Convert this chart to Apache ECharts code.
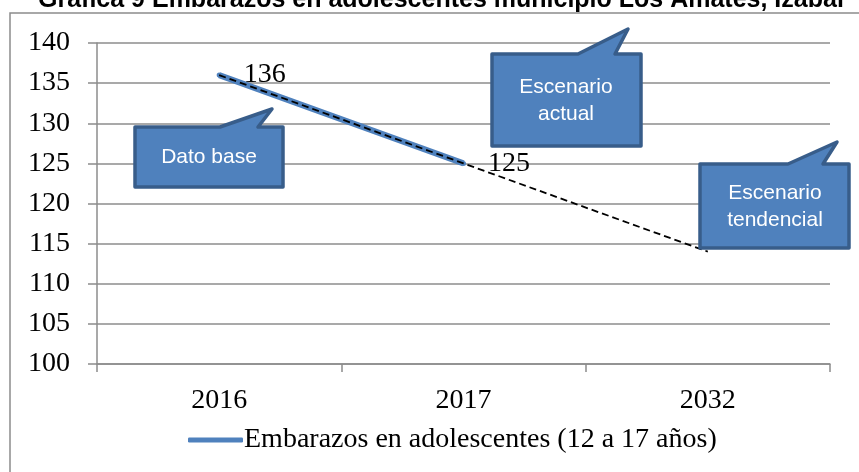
<!DOCTYPE html>
<html>
<head>
<meta charset="utf-8">
<script src="https://cdn.jsdelivr.net/npm/echarts@6/dist/echarts.min.js"></script>
<style>
  html, body { margin: 0; padding: 0; background: #fff; }
  #chart { width: 859px; height: 472px; }
</style>
</head>
<body>
<div id="chart"></div>
<script>
// datos de la gráfica
const years = ['2016', '2017', '2032']
const embarazos = [136, 125, null]
const tendencia = [136, 125, 114]
const yTicks = [100, 105, 110, 115, 120, 125, 130, 135, 140]
const serieNombre = 'Embarazos en adolescentes (12 a 17 años)'

const serif = 'Liberation Serif'
const sans = '"Liberation Sans", Arial'
const azul = '#4f81bd'
const borde = '#385d8a'
const gris = '#8c8c8c'

// globo de texto con cola (coordenadas de pantalla, no son datos)
function globo (x1, y1, x2, y2, cola, lineas, cx, cy) {
  return [{
    type: 'polygon',
    z: 100,
    shape: {
      points: [[x1, y1], [cola[0], y1], cola[1], [cola[2], y1], [x2, y1], [x2, y2], [x1, y2]]
    },
    style: { fill: azul, stroke: borde, lineWidth: 3.5, lineJoin: 'round' }
  }, {
    type: 'text',
    z: 101,
    style: {
      x: cx,
      y: cy,
      text: lineas.join('\n'),
      fill: '#fff',
      font: '21px ' + sans,
      lineHeight: 27,
      textAlign: 'center',
      textVerticalAlign: 'middle'
    }
  }]
}

const chart = echarts.init(document.getElementById('chart'))
const option = {
  backgroundColor: '#fff',
  animation: false,
  title: {
    text: 'Gráfica 9 Embarazos en adolescentes municipio Los Amates, Izabal',
    left: 33,
    top: -17,
    textStyle: { fontFamily: sans, fontWeight: 'bold', fontSize: 25, color: '#000' }
  },
  legend: {
    data: [serieNombre],
    left: 183,
    top: 421,
    icon: 'roundRect',
    itemWidth: 55,
    itemHeight: 5,
    itemGap: 2,
    textStyle: { fontFamily: serif, fontSize: 28, color: '#000', padding: [0, 0, 0, -4] }
  },
  grid: { left: 97, right: 29, top: 43, bottom: 108 },
  xAxis: {
    type: 'category',
    data: years,
    boundaryGap: true,
    axisLine: { lineStyle: { color: gris, width: 1.5 } },
    axisTick: { show: true, length: 8, lineStyle: { color: gris, width: 1.5 } },
    axisLabel: { fontFamily: serif, fontSize: 28, color: '#000', margin: 23 }
  },
  yAxis: {
    type: 'value',
    min: yTicks[0],
    max: yTicks[yTicks.length - 1],
    interval: 5,
    axisLine: { show: true, lineStyle: { color: gris, width: 1.5 } },
    axisTick: { show: true, length: 9, lineStyle: { color: gris, width: 1.5 } },
    axisLabel: { fontFamily: serif, fontSize: 28, color: '#000', margin: 27 },
    splitLine: { lineStyle: { color: gris, width: 1.5 } }
  },
  series: [{
    name: serieNombre,
    type: 'line',
    data: embarazos,
    symbol: 'circle',
    symbolSize: 5,
    lineStyle: { color: azul, width: 6 },
    itemStyle: { color: azul },
    label: {
      show: true,
      position: 'right',
      distance: 22,
      fontFamily: serif,
      fontSize: 28,
      color: '#000'
    },
    z: 3
  }, {
    name: 'tendencia',
    type: 'line',
    data: tendencia,
    symbol: 'none',
    lineStyle: { color: '#000', width: 1.8, type: [7, 4] },
    z: 4,
    silent: true
  }],
  graphic: [
    {
      type: 'rect',
      z: 0,
      shape: { x: 10, y: 13, width: 900, height: 500 },
      style: { fill: null, stroke: gris, lineWidth: 1.5 }
    }
  ].concat(
    globo(135, 127, 283, 187, [220, [272, 109], 258], ['Dato base'], 209, 157),
    globo(492, 54, 641, 146, [578, [628, 29], 615], ['Escenario', 'actual'], 566, 101),
    globo(700, 164, 849, 248, [788, [837, 142], 823], ['Escenario', 'tendencial'], 775, 207)
  )
}
chart.setOption(option)
</script>
</body>
</html>
